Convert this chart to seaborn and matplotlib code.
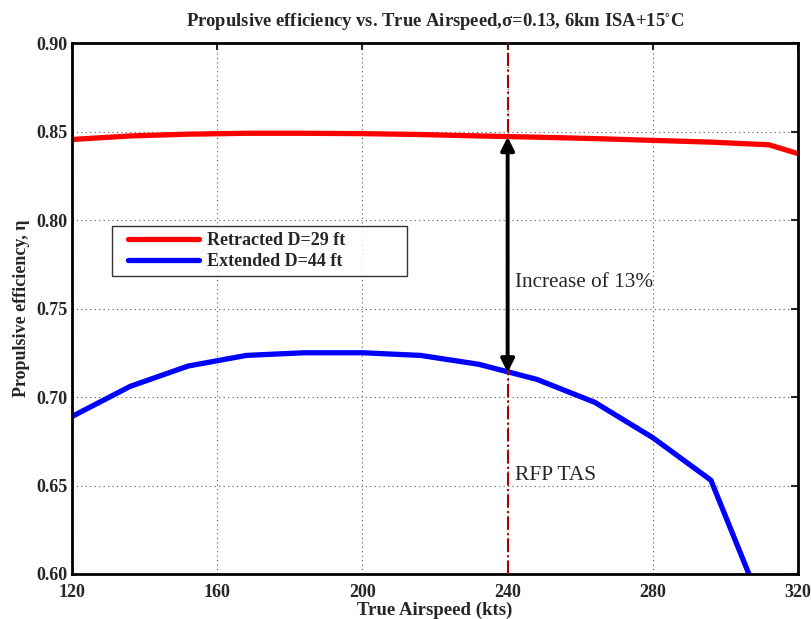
import matplotlib
matplotlib.use("Agg")
import matplotlib.pyplot as plt
from matplotlib.lines import Line2D
from matplotlib.legend_handler import HandlerLine2D
import seaborn as sns
import pandas as pd

# Data
tas_kts = [120, 136, 152, 168, 184, 200, 216, 232, 248, 264, 280, 296, 312, 328]
eta_retracted = [0.8455, 0.8475, 0.8485, 0.849, 0.849, 0.8488, 0.8483, 0.8475,
                 0.8468, 0.846, 0.845, 0.844, 0.8425, 0.8325]
eta_extended = [0.689, 0.706, 0.7175, 0.7235, 0.725, 0.725, 0.7235, 0.7185,
                0.710, 0.697, 0.677, 0.653, 0.572, 0.49]
series_labels = ["Retracted D=29 ft", "Extended D=44 ft"]
x_ticks = [120, 160, 200, 240, 280, 320]
y_ticks = [0.60, 0.65, 0.70, 0.75, 0.80, 0.85, 0.90]
rfp_tas = 240
arrow_top, arrow_bottom = 0.847, 0.7138

sns.set_theme(style="white")
plt.rcParams['font.family'] = ['Liberation Serif', 'DejaVu Serif']
plt.rcParams['mathtext.fontset'] = 'stix'

df = pd.DataFrame({
    "TAS": tas_kts * 2,
    "eta": eta_retracted + eta_extended,
    "config": [series_labels[0]] * len(tas_kts) + [series_labels[1]] * len(tas_kts),
})

fig = plt.figure(figsize=(8.12, 6.19), dpi=100)
ax = fig.add_axes([0.0887, 0.0727, 0.8941, 0.8578])

sns.lineplot(data=df, x="TAS", y="eta", hue="config",
             palette={series_labels[0]: "#ff0000", series_labels[1]: "#0000ff"},
             linewidth=3.8, ax=ax, sort=False)

ax.set_xlim(120, 320)
ax.set_ylim(0.60, 0.90)
ax.set_xticks(x_ticks)
ax.set_yticks(y_ticks)
ax.set_xticklabels([str(v) for v in x_ticks], fontweight='bold', fontsize=13)
ax.set_yticklabels([f"{v:.2f}" for v in y_ticks], fontweight='bold', fontsize=13)
ax.grid(True, linestyle=(0, (1, 3)), color='#555555', linewidth=0.8)
ax.tick_params(direction='in', length=5, width=1.5, top=True, right=True)
ax.tick_params(axis='x', pad=7)
ax.tick_params(axis='y', pad=3)
for s in ax.spines.values():
    s.set_linewidth(2)
    s.set_color('black')

ax.axvline(rfp_tas, color='#b00000', linestyle='-.', linewidth=1.5, zorder=3)
ax.annotate('', xy=(rfp_tas, arrow_top), xytext=(rfp_tas, arrow_bottom),
            arrowprops=dict(arrowstyle='<|-|>', color='black', lw=2.8,
                            mutation_scale=20, shrinkA=0, shrinkB=0), zorder=5)
ax.text(242, 0.7646, "Increase of 13%", fontsize=15.3, va='center', ha='left')
ax.text(242, 0.6554, "RFP TAS", fontsize=15.5, va='center', ha='left')

ax.set_xlabel("True Airspeed (kts)", fontweight='bold', fontsize=13.5, labelpad=1)
ax.set_ylabel("Propulsive efficiency, η", fontweight='bold', fontsize=13, labelpad=5)
ax.set_title("Propulsive efficiency vs. True Airspeed,σ=0.13, 6km ISA+15$^{\\circ}$C",
             fontweight='bold', fontsize=13.4, pad=12)

leg = ax.legend(loc='upper left', bbox_to_anchor=(0.0551, 0.5, 0.4063, 0.1554),
                mode='expand', borderaxespad=0,
                frameon=True, fancybox=False, prop={'weight': 'bold', 'size': 13},
                handlelength=4.45, handletextpad=0.45, borderpad=0.35, labelspacing=0.2,
                handler_map={Line2D: HandlerLine2D(xpad=0.55)})
leg.get_frame().set_edgecolor('black')
leg.get_frame().set_linewidth(1.0)
for line in leg.get_lines():
    line.set_linewidth(3.8)

fig.savefig("out.png", dpi=100)
